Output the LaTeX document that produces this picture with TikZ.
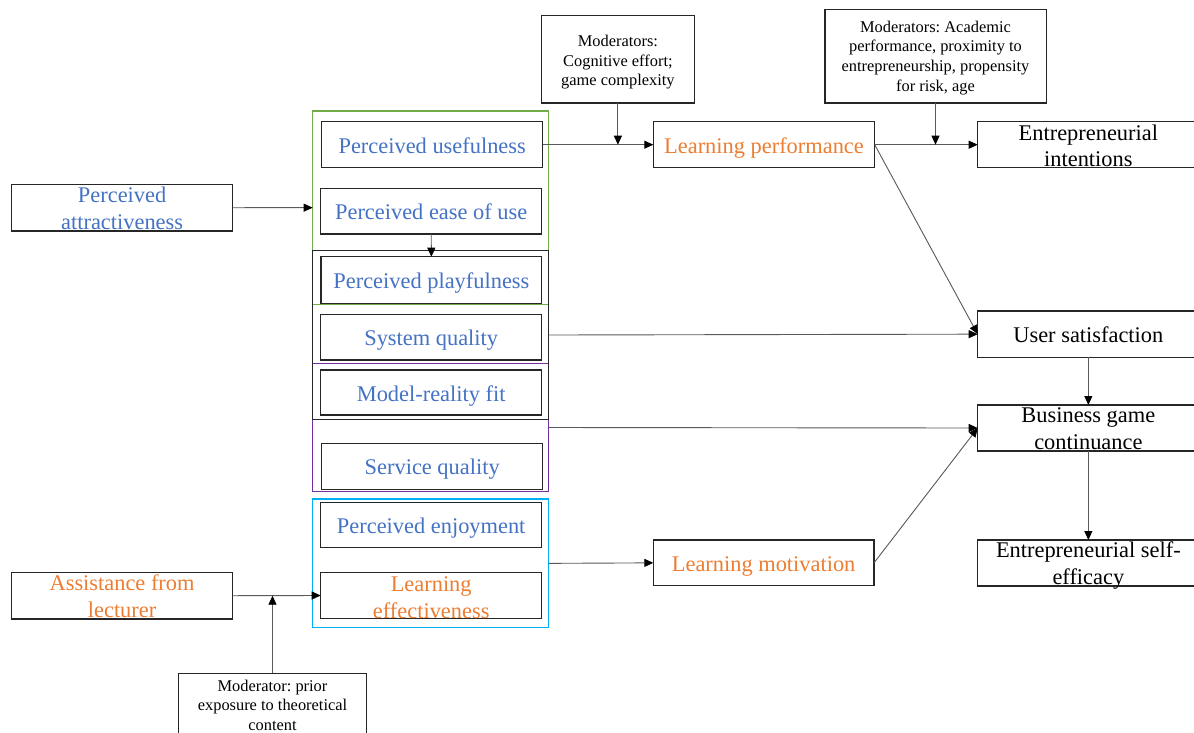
\documentclass[tikz,border=0pt]{standalone}
\usepackage{fontspec}
\setmainfont{Liberation Serif}
\usetikzlibrary{arrows.meta}
\definecolor{tblue}{HTML}{4472C4}
\definecolor{torange}{HTML}{ED7D31}
\definecolor{fgreen}{HTML}{70AD47}
\definecolor{fpurple}{HTML}{7030A0}
\definecolor{fcyan}{HTML}{00B0F0}
\definecolor{edgec}{HTML}{262626}
\definecolor{conn}{HTML}{595959}
\frenchspacing
\begin{document}
\begin{tikzpicture}[x=1pt,y=-1pt,
  box/.style={draw=edgec,line width=1.4pt,inner sep=0pt,outer sep=0pt,rectangle,
    text height=17pt,text depth=0pt,font=\fontsize{22.4}{26.5}\selectfont},
  frame/.style={line width=1.4pt,inner sep=0pt,outer sep=0pt,rectangle},
  txt/.style={inner sep=0pt,align=center,anchor=north,font=\fontsize{22.4}{26.5}\selectfont},
  mtxt/.style={inner sep=0pt,align=center,anchor=north,font=\fontsize{16.4}{19.7}\selectfont},
  arr/.style={draw=conn,line width=0.9pt,-{Triangle[length=9pt,width=8pt,color=black]}}
]
\path[fill=white,use as bounding box] (0,0) rectangle (1194,732);

% group frames
\node[frame,draw=fgreen,minimum width=235.8pt,minimum height=193.3pt] (gframe) at (430.6,207.65) {};
\node[frame,draw=fpurple,minimum width=235.8pt,minimum height=128.4pt] (pframe) at (430.6,427.5) {};
\node[frame,draw=fcyan,minimum width=235.8pt,minimum height=128.7pt] (cframe) at (430.6,563.35) {};
\node[frame,draw=edgec,minimum width=235.8pt,minimum height=168.6pt] (kframe) at (430.6,335) {};

% left column
\node[box,minimum width=220.8pt,minimum height=46.7pt] (pa) at (122.1,207.7) {};
\node[txt,text=tblue] (pa-t) at (122.1,184.15) {\strut Perceived\\attractiveness};
\node[box,minimum width=220.8pt,minimum height=46.7pt] (al) at (122.1,595.7) {};
\node[txt,text=torange] (al-t) at (122.1,572.15) {\strut Assistance from\\lecturer};

% middle column
\node[box,text=tblue,minimum width=221pt,minimum height=46pt] (pu) at (432.2,144.7) {Perceived usefulness};
\node[box,text=tblue,minimum width=221pt,minimum height=45.7pt] (peu) at (431.2,211.2) {Perceived ease of use};
\node[box,text=tblue,minimum width=220.7pt,minimum height=46.6pt] (pp) at (431.4,280) {Perceived playfulness};
\node[box,text=tblue,minimum width=221pt,minimum height=45.7pt] (sq) at (431.2,337.2) {System quality};
\node[box,text=tblue,minimum width=221pt,minimum height=45pt] (mrf) at (431.2,392.5) {Model-reality fit};
\node[box,text=tblue,minimum width=221pt,minimum height=46pt] (serq) at (432.2,466.3) {Service quality};
\node[box,text=tblue,minimum width=221pt,minimum height=45pt] (pe) at (431.2,525.2) {Perceived enjoyment};
\node[box,minimum width=221pt,minimum height=45.6pt] (le) at (431.2,595.5) {};
\node[txt,text=torange] (le-t) at (431.2,573.15) {\strut Learning\\effectiveness};

% moderators
\node[box,minimum width=153.4pt,minimum height=87.9pt] (cog) at (617.9,59.15) {};
\node[mtxt] (cog-t) at (617.9,32.4) {\strut Moderators:\\Cognitive effort;\\game complexity};
\node[box,minimum width=221.4pt,minimum height=93.6pt] (acad) at (935.5,56.3) {};
\node[mtxt] (acad-t) at (935.5,18.1) {\strut Moderators: Academic\\performance, proximity to\\entrepreneurship, propensity\\for risk, age};
\node[box,minimum width=188.4pt,minimum height=71.7pt] (prior) at (272.5,709.15) {};
\node[mtxt] (prior-t) at (272.5,677) {\strut Moderator: prior\\exposure to theoretical\\content};

% outcome column
\node[box,text=torange,minimum width=221.4pt,minimum height=46pt] (lp) at (764,144.7) {Learning performance};
\node[box,text=torange,minimum width=220.7pt,minimum height=45.7pt] (lm) at (763.65,562.85) {Learning motivation};

\node[box,minimum width=221.3pt,minimum height=46pt] (ei) at (1088.35,144.7) {};
\node[txt] (ei-t) at (1088.35,121.45) {\strut Entrepreneurial\\intentions};
\node[box,minimum width=221.3pt,minimum height=46.3pt] (us) at (1088.35,334.15) {User satisfaction};
\node[box,minimum width=221.3pt,minimum height=46pt] (bgc) at (1088.35,428) {};
\node[txt] (bgc-t) at (1088.35,404.15) {\strut Business game\\continuance};
\node[box,minimum width=221.3pt,minimum height=46pt] (ese) at (1088.35,563) {};
\node[txt] (ese-t) at (1088.35,538.75) {\strut Entrepreneurial self-\\efficacy};

% connectors
\draw[arr] (pa.east) -- (gframe.west);
\draw[arr] (peu.south) -- (pp.north);
\draw[arr] (pu.east) -- (lp.west);
\draw[arr] (cog.south) -- (cog.south |- lp.west);
\draw[arr] (lp.east) -- (ei.west);
\draw[arr] (acad.south) -- (acad.south |- ei.west);
\draw[arr] (lp.east) -- (us.west);
\draw[arr] (kframe.east) -- (us.west);
\draw[arr] (us.south) -- (bgc.north);
\draw[arr] (pframe.east) -- (bgc.west);
\draw[arr] (cframe.east) -- (lm.west);
\draw[arr] (lm.east) -- (bgc.west);
\draw[arr] (bgc.south) -- (ese.north);
\draw[arr] (al.east) -- (le.west);
\draw[arr] (prior.north) -- (prior.north |- al.east);
\end{tikzpicture}
\end{document}
